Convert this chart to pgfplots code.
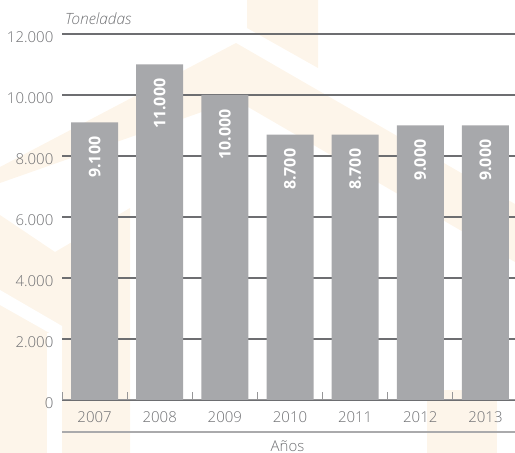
\documentclass[border=0pt]{standalone}
\usepackage{fontspec}
\usepackage{pgfplots}
\pgfplotsset{compat=1.18}
\setmainfont{Open Sans}
\newfontfamily\light{Open Sans Light}
\definecolor{barc}{RGB}{167,168,171}
\definecolor{gridc}{RGB}{109,110,113}
\definecolor{txt}{RGB}{112,113,116}
\definecolor{axc}{RGB}{150,150,152}
\definecolor{linec}{RGB}{170,170,172}
\definecolor{cream}{RGB}{253,245,234}
\begin{document}
\begin{tikzpicture}
\useasboundingbox (0pt,0pt) rectangle (515pt,453pt);
% faint background watermark
\begin{scope}[x=1pt,y=1pt]
\fill[cream] (247,453) -- (318,453) -- (318,385) -- (247,425) -- cycle;
\fill[cream] (0,286) -- (236,410) -- (515,249) -- (515,191) -- (236,353) -- (0,270) -- cycle;
\fill[cream] (0,238) -- (55,201) -- (130,245) -- (130,0) -- (0,0) -- cycle;
\fill[white] (0,163) -- (62,127) -- (62,113) -- (0,148) -- cycle;
\fill[white] (47,120) rectangle (62,0);
\fill[cream] (427,63) rectangle (497,0);
\end{scope}
\begin{axis}[
  at={(62pt,53pt)}, anchor=south west,
  width=456pt, height=366pt, scale only axis,
  xmin=-0.5, xmax=6.5, ymin=0, ymax=12000,
  ybar, bar width=47pt,
  axis x line=bottom, axis y line=left, axis line style={-},
  y axis line style={draw=none},
  x axis line style={draw=axc, line width=1pt},
  xtick={0,...,6},
  xticklabels={2007,2008,2009,2010,2011,2012,2013},
  minor xtick={-0.5,0.5,...,6.5},
  xtick align=inside,
  major x tick style={draw=none},
  minor x tick style={draw=axc, line width=1pt},
  minor tick length=8pt,
  ytick={0,2000,...,12000},
  scaled y ticks=false,
  ytick style={draw=none},
  ymajorgrids,
  major grid style={draw=gridc, line width=1.1pt},
  /pgf/number format/1000 sep={.},
  /pgf/number format/assume math mode=true,
  yticklabel style={font=\light\fontsize{15}{15}\selectfont, text=txt, xshift=-3pt, yshift=-3pt},
  xticklabel style={font=\light\fontsize{15}{15}\selectfont, text=txt, yshift=-8pt},
  xlabel={Años},
  xlabel style={at={(rel axis cs:0.4945,-0.142)}, anchor=base, font=\light\fontsize{15}{15}\selectfont, text=txt},
  nodes near coords,
  nodes near coords style={font=\bfseries\fontsize{16}{16}\selectfont, text=white, rotate=90, anchor=east, inner xsep=14pt},
  clip=false,
]
\addplot[fill=barc, draw=none] coordinates {(0,9100) (1,11000) (2,10000) (3,8700) (4,8700) (5,9000) (6,9000)};
\node[anchor=base west, font=\light\itshape\fontsize{15.5}{15.5}\selectfont, text=txt, inner sep=0pt] at (rel axis cs:0.0066,1.027) {Toneladas};
\draw[linec, line width=1.5pt] (rel axis cs:0,-0.0874) -- (rel axis cs:1,-0.0874);
\end{axis}
\end{tikzpicture}
\end{document}
